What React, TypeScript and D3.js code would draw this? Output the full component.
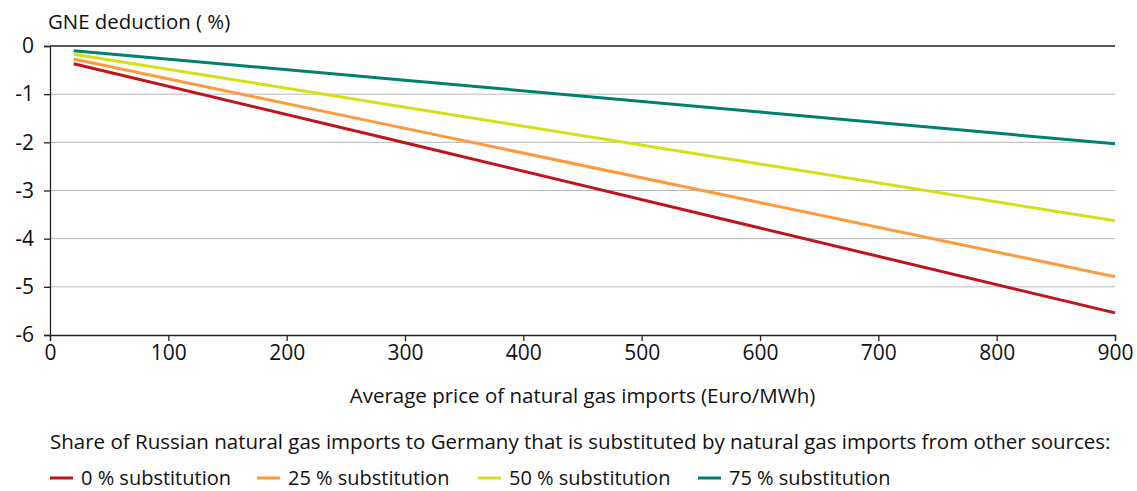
import React, { useEffect, useRef } from "react";
import * as d3 from "d3";

const prices = [20, 300, 600, 900];
const noSubstitution = [-0.37, -2.01, -3.78, -5.54];
const sub25 = [-0.27, -1.71, -3.25, -4.79];
const sub50 = [-0.17, -1.27, -2.45, -3.63];
const sub75 = [-0.1, -0.71, -1.37, -2.03];

const seriesNames = ["0 % substitution", "25 % substitution", "50 % substitution", "75 % substitution"];
const seriesColors = ["#c0141c", "#ff9a3c", "#d4e017", "#00806e"];
const xTicks = [0, 100, 200, 300, 400, 500, 600, 700, 800, 900];
const yTicks = [0, -1, -2, -3, -4, -5, -6];

const FONT = "'Open Sans', Roboto, sans-serif";

const App: React.FC = () => {
  const svgRef = useRef<SVGSVGElement | null>(null);
  const width = 1137;
  const height = 491;

  useEffect(() => {
    if (!svgRef.current) return;
    const svg = d3.select(svgRef.current);
    svg.selectAll("*").remove();

    const margin = { top: 46, left: 50, right: 22, bottom: 156 };
    const innerWidth = width - margin.left - margin.right;
    const innerHeight = height - margin.top - margin.bottom;

    const x = d3.scaleLinear().domain([0, 900]).range([0, innerWidth]);
    const y = d3.scaleLinear().domain([-6, 0]).range([innerHeight, 0]);

    const g = svg.append("g").attr("transform", `translate(${margin.left},${margin.top})`);

    // gridlines
    g.selectAll(".grid")
      .data(yTicks.filter((t) => t !== 0 && t !== -6))
      .join("line")
      .attr("x1", 0)
      .attr("x2", innerWidth)
      .attr("y1", (d) => y(d))
      .attr("y2", (d) => y(d))
      .attr("stroke", "#b8b8b8")
      .attr("stroke-width", 1);

    // top line at 0
    g.append("line")
      .attr("x1", 0)
      .attr("x2", innerWidth)
      .attr("y1", y(0))
      .attr("y2", y(0))
      .attr("stroke", "#222")
      .attr("stroke-width", 1.3);

    // axes
    const xAxis = g
      .append("g")
      .attr("transform", `translate(0,${innerHeight})`)
      .call(d3.axisBottom(x).tickValues(xTicks).tickSize(6).tickPadding(4));
    const yAxis = g.append("g").call(
      d3
        .axisLeft(y)
        .tickValues(yTicks)
        .tickSize(6)
        .tickPadding(4)
        .tickFormat((d) => String(d))
    );

    [xAxis, yAxis].forEach((ax) => {
      ax.select(".domain").attr("stroke", "#222").attr("stroke-width", 1.3);
      ax.selectAll(".tick line").attr("stroke", "#222").attr("stroke-width", 1.3);
      ax.selectAll("text").attr("font-family", FONT).attr("font-size", 21).attr("fill", "#111");
    });
    yAxis.selectAll("text").attr("dx", "-6");

    const series = [noSubstitution, sub25, sub50, sub75];
    const line = d3
      .line<number>()
      .x((_, i) => x(prices[i]))
      .y((d) => y(d));

    series.forEach((vals, i) => {
      g.append("path")
        .datum(vals)
        .attr("fill", "none")
        .attr("stroke", seriesColors[i])
        .attr("stroke-width", 3)
        .attr("d", line);
    });

    // y title
    svg.append("text")
      .attr("x", 48)
      .attr("y", 29)
      .attr("font-family", FONT)
      .attr("font-size", 20.4)
      .attr("fill", "#111")
      .text("GNE deduction ( %)");

    // x title
    svg.append("text")
      .attr("x", margin.left + innerWidth / 2)
      .attr("y", 403)
      .attr("text-anchor", "middle")
      .attr("font-family", FONT)
      .attr("font-size", 20.5)
      .attr("fill", "#111")
      .text("Average price of natural gas imports (Euro/MWh)");

    // legend
    svg.append("text")
      .attr("x", 50)
      .attr("y", 449)
      .attr("font-family", FONT)
      .attr("font-size", 20.5)
      .attr("fill", "#111")
      .text("Share of Russian natural gas imports to Germany that is substituted by natural gas imports from other sources:");

    const legendX = [50, 257, 478, 698];
    const lg = svg.append("g");
    seriesNames.forEach((name, i) => {
      lg.append("line")
        .attr("x1", legendX[i])
        .attr("x2", legendX[i] + 23)
        .attr("y1", 478)
        .attr("y2", 478)
        .attr("stroke", seriesColors[i])
        .attr("stroke-width", 3);
      lg.append("text")
        .attr("x", legendX[i] + 31)
        .attr("y", 485)
        .attr("font-family", FONT)
        .attr("font-size", 20)
        .attr("fill", "#111")
        .text(name);
    });
  }, []);

  return (
    <svg
      ref={svgRef}
      width={width}
      height={height}
      style={{ position: "absolute", left: 0, top: 0, background: "#fff" }}
    />
  );
};

export default App;
